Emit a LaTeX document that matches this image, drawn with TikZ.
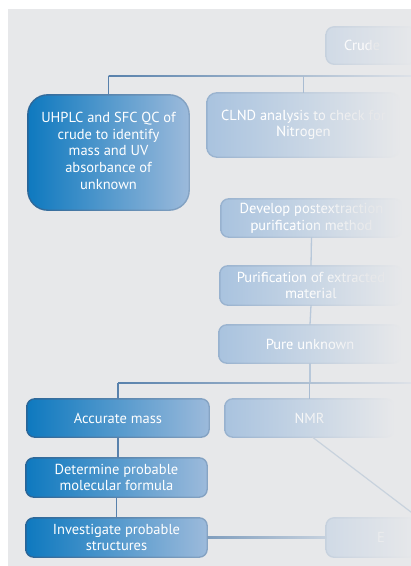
\documentclass[tikz,border=0pt]{standalone}
\usepackage{fontspec}
\setmainfont{PT Sans}
\usetikzlibrary{calc}
\definecolor{bgc}{HTML}{E7E8EA}
\definecolor{dkL}{HTML}{0E79BF}
\definecolor{dkR}{HTML}{9CBADB}
\definecolor{bdDark}{HTML}{2A6597}
\definecolor{bdLight}{HTML}{86A4C4}
\definecolor{midF}{HTML}{A9C3DF}
\definecolor{midB}{HTML}{98B2CF}
\definecolor{farF}{HTML}{D0DAE6}
\definecolor{farB}{HTML}{C6D1DE}
\definecolor{lnD}{HTML}{5881AC}
\definecolor{lnEnd}{HTML}{DEE2E8}
\definecolor{lnM}{HTML}{A9BCD2}
\definecolor{lnL}{HTML}{B8C8DA}
\definecolor{lnDiag}{HTML}{C8D2DD}
% shaded ring border: name, outer radius, inner radius, left colour, right colour
\newcommand\ringbd[5]{\shade[left color=#4, right color=#5, even odd rule]
  [rounded corners=#2] ([xshift=-0.7pt,yshift=0.7pt]#1.north west) rectangle ([xshift=0.7pt,yshift=-0.7pt]#1.south east)
  [rounded corners=#3] ([xshift=0.7pt,yshift=-0.7pt]#1.north west) rectangle ([xshift=-0.7pt,yshift=0.7pt]#1.south east);}
% text fading to the right: box, position, anchor, text, u0, u1, max white
\newcommand\fadetxt[7]{%
  \foreach \k in {0,...,29}{%
    \pgfmathsetmacro\uu{(\k+0.5)/30}%
    \pgfmathsetmacro\ww{#7*max(0,min(1,(#6-\uu)/(#6-#5)))}%
    \pgfmathsetmacro\ka{\k/30}%
    \pgfmathsetmacro\kb{(\k+1)/30}%
    \begin{scope}
      \clip ($(#1.south west)!\ka!(#1.south east)$) rectangle ($(#1.north west)!\kb!(#1.north east)$);
      \node[txt, text=white!\ww!bgc, anchor=#3] (#1-t\k) at (#2) {#4};
    \end{scope}}}
\begin{document}
\begin{tikzpicture}[x=1pt,y=-1pt,
  font=\fontsize{14.5}{16.7}\selectfont,
  txt/.style={align=center, inner sep=0pt},
  box/.style={rounded corners=8pt, text=white, align=center, inner sep=0pt},
  dkbox/.style={box, left color=dkL, right color=dkR},
  midbox/.style={box, left color=midF, middle color=midF!40!bgc, right color=bgc},
  farbox/.style={box, left color=farF, right color=bgc},
  ln/.style={line width=1.3pt, draw=lnD},
  lnm/.style={line width=1.3pt, draw=lnM},
  lnl/.style={line width=1.3pt, draw=lnL}
]
\useasboundingbox (0,0) rectangle (411,566);
\fill[white] (0,0) rectangle (411,566);
\fill[bgc] (8,9) rectangle (411,566);

% boxes
\node[farbox, anchor=west, minimum width=90pt, minimum height=37pt] (crude) at (326,45.5) {};
\node[dkbox, rounded corners=20pt, minimum width=161pt, minimum height=115pt] (uhplc) at (108.5,152.5)
  {\raisebox{3pt}{\begin{tabular}{@{}c@{}}UHPLC and SFC QC of\\crude to identify\\mass and UV\\absorbance of\\unknown\end{tabular}}};
\node[midbox, rounded corners=10pt, minimum width=193pt, minimum height=64pt] (clnd) at (303.5,125) {};
\node[midbox, minimum width=181pt, minimum height=38pt] (develop) at (311.5,218) {};
\node[midbox, minimum width=182pt, minimum height=39pt] (purif) at (311,285.5) {};
\node[midbox, minimum width=182pt, minimum height=38pt] (pure) at (310,344) {};
\node[dkbox, minimum width=182pt, minimum height=38pt] (accurate) at (118,418) {Accurate mass};
\node[midbox, minimum width=169pt, minimum height=38pt] (nmr) at (309.5,418) {};
\node[dkbox, minimum width=181pt, minimum height=39pt] (determine) at (116.5,477.5)
  {Determine probable\\molecular formula};
\node[dkbox, minimum width=181pt, minimum height=39pt] (investigate) at (116.5,537.5)
  {Investigate probable\\structures};
\node[farbox, anchor=west, minimum width=90pt, minimum height=39pt] (ebox) at (326,537.5) {};

% borders
\ringbd{uhplc}{20.7pt}{19.3pt}{bdDark}{bdLight}
\ringbd{accurate}{8.7pt}{7.3pt}{bdDark}{bdLight}
\ringbd{determine}{8.7pt}{7.3pt}{bdDark}{bdLight}
\ringbd{investigate}{8.7pt}{7.3pt}{bdDark}{bdLight}
\ringbd{clnd}{10.7pt}{9.3pt}{midB}{bgc}
\ringbd{develop}{8.7pt}{7.3pt}{midB}{bgc}
\ringbd{purif}{8.7pt}{7.3pt}{midB}{bgc}
\ringbd{pure}{8.7pt}{7.3pt}{midB}{bgc}
\ringbd{nmr}{8.7pt}{7.3pt}{midB}{bgc}
\ringbd{crude}{8.7pt}{7.3pt}{farB}{bgc}
\ringbd{ebox}{8.7pt}{7.3pt}{farB}{bgc}

% fading texts
\fadetxt{crude}{344,45.5}{west}{Crude}{0.44}{0.52}{80}
\fadetxt{clnd}{clnd.center}{center}{CLND analysis to check for\\Nitrogen}{0.38}{0.85}{100}
\fadetxt{develop}{develop.center}{center}{Develop postextraction\\purification method}{0.4}{0.83}{100}
\fadetxt{purif}{purif.center}{center}{Purification of extracted\\material}{0.4}{0.84}{100}
\fadetxt{pure}{pure.center}{center}{Pure unknown}{0.45}{0.9}{100}
\fadetxt{nmr}{nmr.center}{center}{NMR}{0.25}{0.8}{100}
\fadetxt{ebox}{377,537.5}{west}{E}{0.3}{0.72}{55}

% connectors
\coordinate (busT) at (411,76);
\coordinate (busB) at (411,383);
\coordinate (dEnd) at (430,526.5);
\shade[left color=lnD, right color=lnEnd] ([yshift=0.65pt]uhplc.north |- busT) rectangle ([yshift=-0.65pt]busT);
\draw[ln] (uhplc.north) -- (uhplc.north |- busT);
\draw[lnm] (clnd.north) -- (clnd.north |- busT);
\draw[lnl] (develop.south) -- (purif.north);
\draw[lnl] (purif.south) -- (pure.north);
\draw[lnl] (pure.south) -- (pure.south |- busB);
\shade[left color=lnD, right color=lnEnd] ([yshift=0.65pt]accurate.north |- busB) rectangle ([yshift=-0.65pt]busB);
\draw[ln] (accurate.north) -- (accurate.north |- busB);
\draw[lnm] (nmr.north) -- (nmr.north |- busB);
\draw[ln] (accurate.south) -- (accurate.south |- determine.north);
\draw[ln] (determine.south) -- (investigate.north);
\shade[left color=lnD!70!lnEnd, right color=farB] ([yshift=0.65pt]investigate.east) rectangle ([yshift=-0.65pt]ebox.west);
\draw[line width=1.2pt, draw=lnDiag] ([xshift=3pt]nmr.south) -- (dEnd);
\end{tikzpicture}
\end{document}
